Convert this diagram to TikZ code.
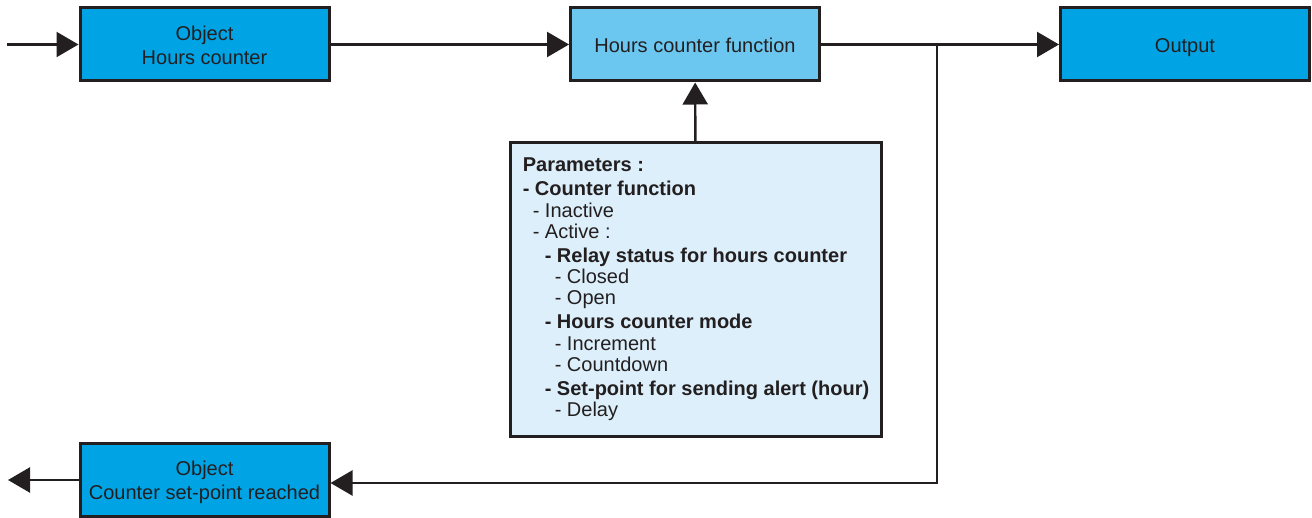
\documentclass[tikz,border=0pt]{standalone}
\usepackage{fontspec}
\setmainfont{Liberation Sans}
\usetikzlibrary{arrows.meta}
\definecolor{objblue}{RGB}{0,163,228}
\definecolor{funcblue}{RGB}{108,199,240}
\definecolor{parblue}{RGB}{220,239,250}
\definecolor{linegray}{RGB}{35,31,32}
\newcommand{\boxtop}{\rule{0pt}{21pt}}
\newcommand{\boxbot}{\rule[-4pt]{0pt}{4pt}}
\begin{document}
\begin{tikzpicture}[x = 1pt, y = -1pt,
    block/.style = {draw = linegray, line width = 3pt, minimum width = 249pt, minimum height = 73pt,
      inner sep = 0pt, align = center, text = linegray, font = \fontsize{20}{24}\selectfont},
    parbox/.style = {draw = linegray, fill = parblue, line width = 3pt, minimum width = 371pt,
      minimum height = 293pt, inner sep = 0pt, align = left, text = linegray,
      font = \fontsize{20}{21.3}\selectfont},
    link/.style = {draw = linegray, line width = 2.4pt, -{Triangle[length = 22pt, width = 25pt]}}]
            \useasboundingbox (0,0) rectangle (1312,518);
            \node[block, fill = objblue] (obj) at (204.5,44.5) {\boxtop Object\\Hours counter\boxbot};
            \node[block, fill = funcblue] (func) at (695,44.5) {\boxtop Hours counter function\boxbot};
            \node[block, fill = objblue] (out) at (1185,44.5) {\boxtop Output\boxbot};
            \node[parbox] (par) at (696,289.5) {\textbf{Parameters :}\\[2.7pt]
              \textbf{- Counter function}\\
              \hspace*{10pt}- Inactive\\
              \hspace*{10pt}- Active :\\[2.7pt]
              \hspace*{22pt}\textbf{- Relay status for hours counter}\\
              \hspace*{32pt}- Closed\\
              \hspace*{32pt}- Open\\[2.7pt]
              \hspace*{22pt}\textbf{- Hours counter mode}\\
              \hspace*{32pt}- Increment\\
              \hspace*{32pt}- Countdown\\[2.7pt]
              \hspace*{22pt}\textbf{- Set-point for sending alert (hour)}\\
              \hspace*{32pt}- Delay};
            \node[block, fill = objblue] (reached) at (204.5,479.5) {\boxtop Object\\Counter set-point reached\boxbot};
            \coordinate (in) at (7,44.5);
            \coordinate (split) at (937,44.5);
            \coordinate (corner) at (937,483);
            \coordinate (away) at (8,480);
            \draw[link] (in) -- (obj);
            \draw[link] (obj) -- (func);
            \draw[link] (func) -- (out);
            \draw[link] (par) -- (func);
            \draw[link] (split) -- (corner) -- (reached.east |- corner);
            \draw[link] (reached.west |- away) -- (away);
        \end{tikzpicture}
\end{document}
